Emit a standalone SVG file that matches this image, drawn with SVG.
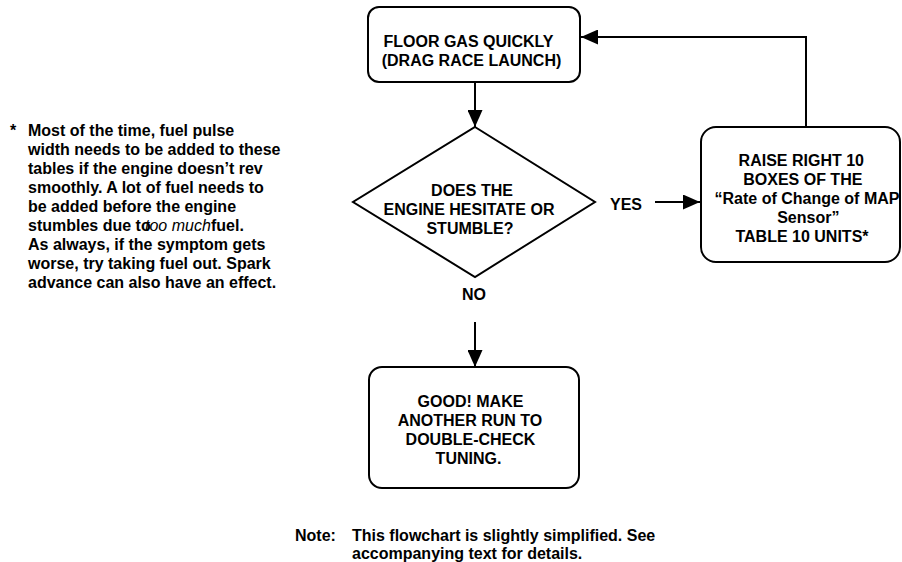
<svg xmlns="http://www.w3.org/2000/svg" width="902" height="562" viewBox="0 0 902 562">
<defs>
<style>
text{font-family:"Liberation Sans",Arial,sans-serif;font-size:16px;font-weight:bold;fill:#000}
.c{text-anchor:middle}
.shape{fill:#fff;stroke:#000;stroke-width:2}
.conn{fill:none;stroke:#000;stroke-width:2}
</style>
<marker id="ah" viewBox="0 0 17 15" refX="17" refY="7.5" markerWidth="17" markerHeight="15" markerUnits="userSpaceOnUse" orient="auto">
<path d="M0,0 L17,7.5 L0,15 Z" fill="#000"/>
</marker>
</defs>
<rect width="902" height="562" fill="#fff"/>
<g id="connectors">
<path class="conn" d="M475,82 V127" marker-end="url(#ah)"/>
<path class="conn" d="M655,202 H700" marker-end="url(#ah)"/>
<path class="conn" d="M806,127 V37 H581" marker-end="url(#ah)"/>
<path class="conn" d="M475,322 V367" marker-end="url(#ah)"/>
</g>
<g id="start">
<rect class="shape" x="368" y="7" width="212" height="75" rx="11"/>
<text class="c" x="468.5" y="46.5">FLOOR GAS QUICKLY</text>
<text class="c" x="471.5" y="65.5">(DRAG RACE LAUNCH)</text>
</g>
<g id="decision">
<polygon class="shape" points="475,127 595,202 475,277 353,202"/>
<text class="c" x="472" y="196">DOES THE</text>
<text class="c" x="469" y="215">ENGINE HESITATE OR</text>
<text class="c" x="470" y="234">STUMBLE?</text>
</g>
<g id="label-yes"><text x="610" y="210">YES</text></g>
<g id="label-no"><text class="c" x="474" y="300">NO</text></g>
<g id="raise">
<rect class="shape" x="701" y="127" width="199" height="135" rx="15"/>
<text class="c" x="801.3" y="166">RAISE RIGHT 10</text>
<text class="c" x="802.8" y="185">BOXES OF THE</text>
<text class="c" x="807" y="204">“Rate of Change of MAP</text>
<text class="c" x="808.3" y="223">Sensor”</text>
<text class="c" x="802" y="242">TABLE 10 UNITS*</text>
</g>
<g id="good">
<rect class="shape" x="369" y="367" width="210" height="121" rx="13"/>
<text class="c" x="470.5" y="406.5">GOOD! MAKE</text>
<text class="c" x="470" y="425.5">ANOTHER RUN TO</text>
<text class="c" x="470.5" y="444.5">DOUBLE-CHECK</text>
<text class="c" x="468.5" y="463.5">TUNING.</text>
</g>
<g id="footnote">
<text x="10" y="136">*</text>
<text x="28" y="136">Most of the time, fuel pulse</text>
<text x="28" y="155">width needs to be added to these</text>
<text x="28" y="174">tables if the engine doesn’t rev</text>
<text x="28" y="193">smoothly. A lot of fuel needs to</text>
<text x="28" y="212">be added before the engine</text>
<text x="28" y="231">stumbles due to<tspan x="145" font-style="italic" font-weight="normal">too much</tspan><tspan x="211">fuel.</tspan></text>
<text x="28" y="250">As always, if the symptom gets</text>
<text x="28" y="268.5">worse, try taking fuel out. Spark</text>
<text x="28" y="287.5">advance can also have an effect.</text>
</g>
<g id="note">
<text x="295" y="540.5">Note:</text>
<text x="352" y="540.5">This flowchart is slightly simplified. See</text>
<text x="352" y="558.5">accompanying text for details.</text>
</g>
</svg>
